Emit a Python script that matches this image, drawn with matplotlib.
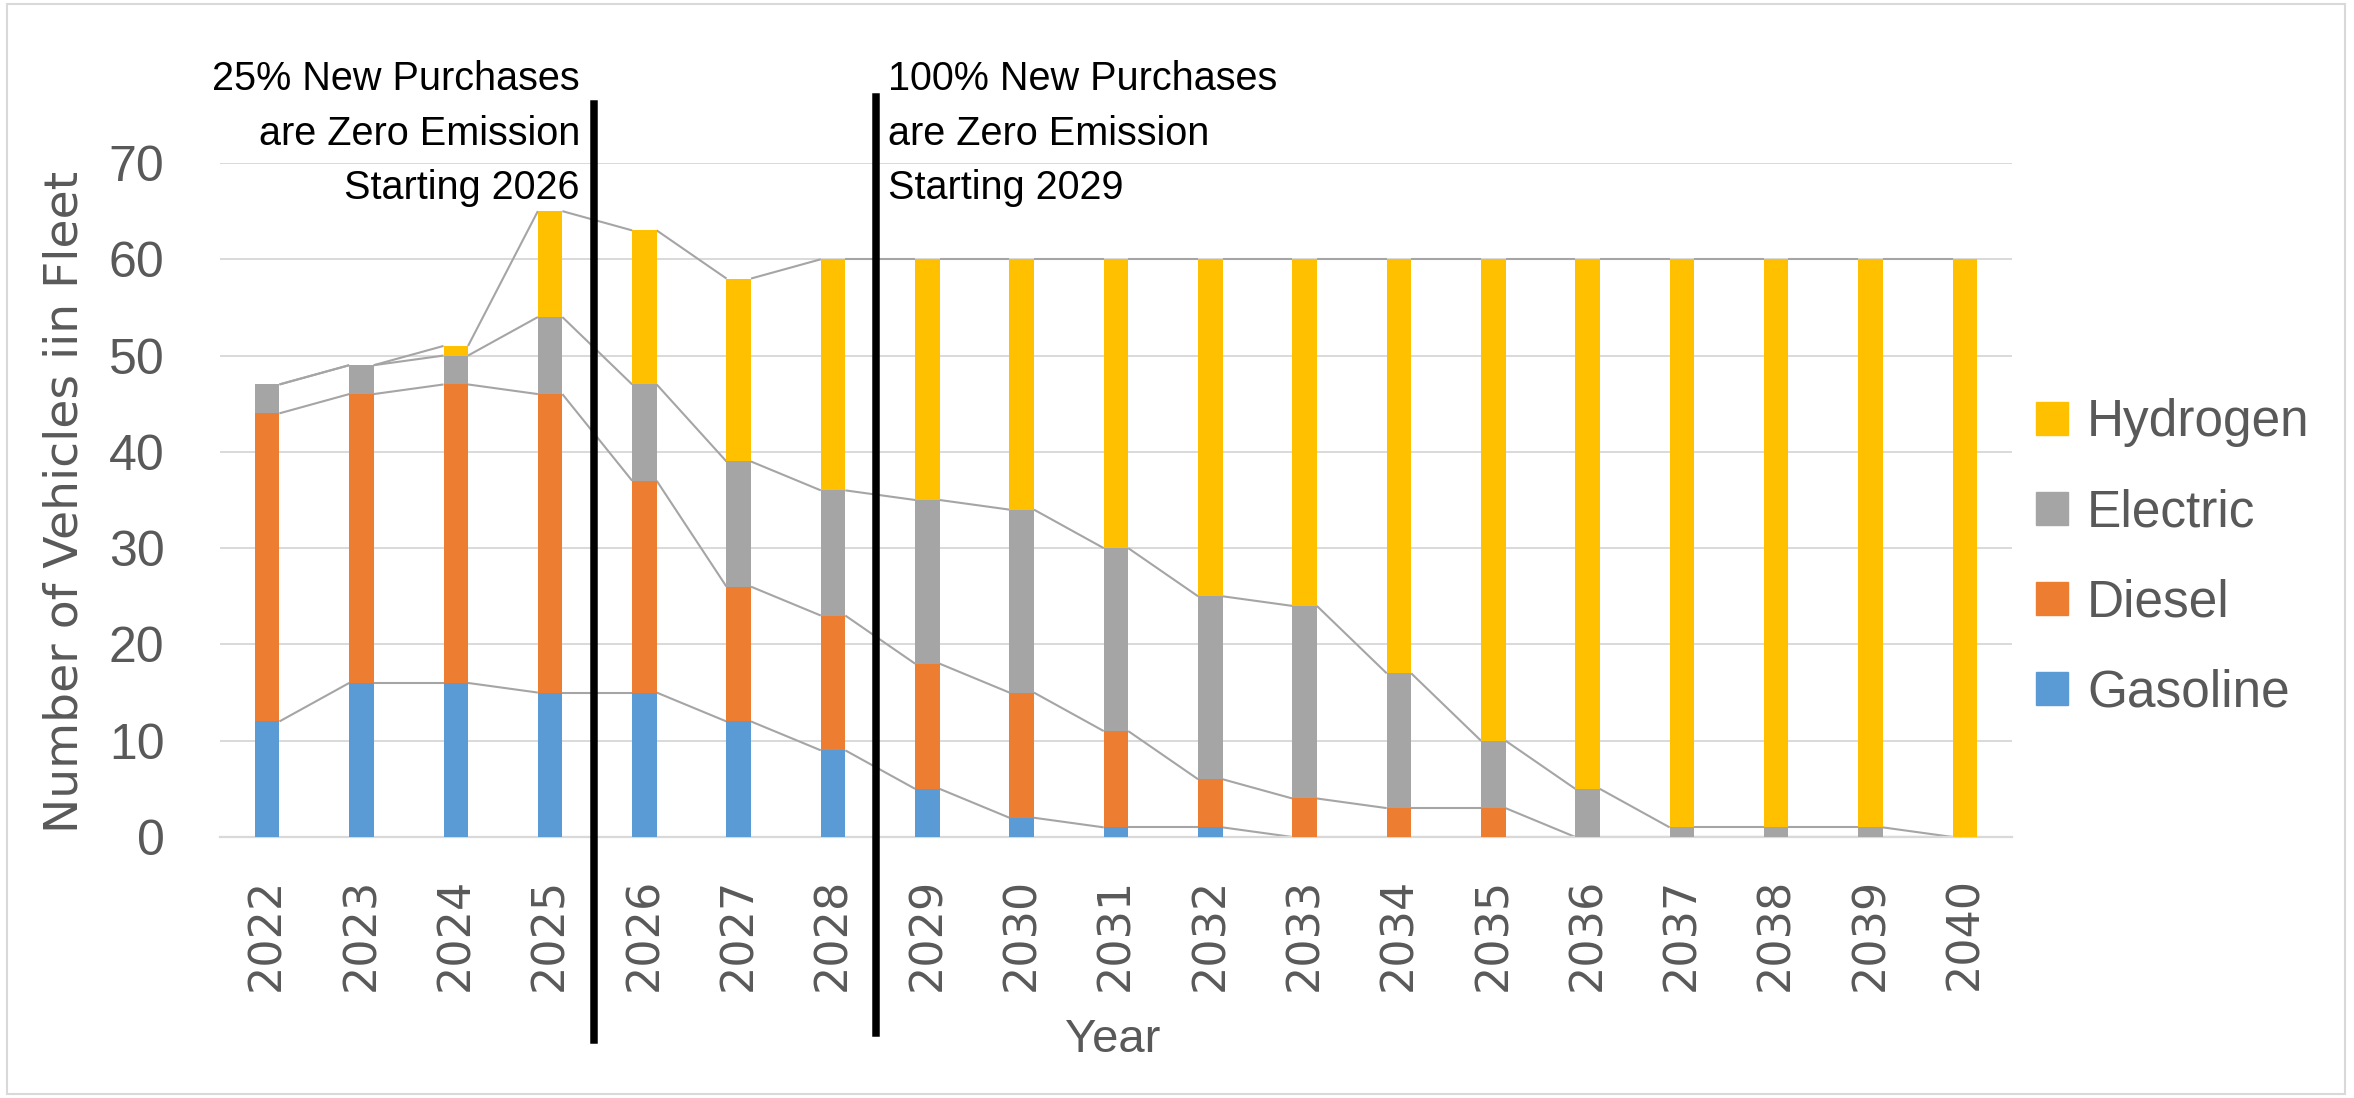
import matplotlib
matplotlib.use('Agg')
import matplotlib.pyplot as plt
import matplotlib.transforms as mtransforms
from matplotlib.patches import Patch, Rectangle
import numpy as np

years = ['2022', '2023', '2024', '2025', '2026', '2027', '2028', '2029', '2030', '2031',
         '2032', '2033', '2034', '2035', '2036', '2037', '2038', '2039', '2040']
gasoline = [12, 16, 16, 15, 15, 12, 9, 5, 2, 1, 1, 0, 0, 0, 0, 0, 0, 0, 0]
diesel = [32, 30, 31, 31, 22, 14, 14, 13, 13, 10, 5, 4, 3, 3, 0, 0, 0, 0, 0]
electric = [3, 3, 3, 8, 10, 13, 13, 17, 19, 19, 19, 20, 14, 7, 5, 1, 1, 1, 0]
hydrogen = [0, 0, 1, 11, 16, 19, 24, 25, 26, 30, 35, 36, 43, 50, 55, 59, 59, 59, 60]

series_names = ['Gasoline', 'Diesel', 'Electric', 'Hydrogen']
colors = ['#5B9BD5', '#ED7D31', '#A5A5A5', '#FFC000']

note_left = ['25% New Purchases', 'are Zero Emission', 'Starting 2026']
note_right = ['100% New Purchases', 'are Zero Emission', 'Starting 2029']

W, H = 2354, 1098
fig = plt.figure(figsize=(W / 100, H / 100), dpi=100)
ax = fig.add_axes([220 / W, 1 - 837 / H, (2012 - 220) / W, (837 - 163) / H])

x = np.arange(len(years))
bw = 0.26
bottom = np.zeros(len(years))
tops = []
for name, vals, c in zip(series_names, [gasoline, diesel, electric, hydrogen], colors):
    ax.bar(x, vals, bw, bottom=bottom, color=c, label=name, zorder=3)
    bottom = bottom + np.array(vals)
    tops.append(bottom.copy())

# excel style series lines
for cum in tops:
    for i in range(len(years) - 1):
        ax.plot([x[i] + bw / 2, x[i + 1] - bw / 2], [cum[i], cum[i + 1]],
                color='#A5A5A5', lw=1.5, zorder=2, solid_capstyle='butt')

ax.set_xlim(-0.5, len(years) - 0.5)
ax.set_ylim(0, 70)
ax.set_yticks(range(0, 71, 10))
ax.yaxis.grid(True, color='#D9D9D9', lw=1.4, zorder=0)
ax.set_axisbelow(True)
for s in ['top', 'right', 'left']:
    ax.spines[s].set_visible(False)
ax.spines['bottom'].set_color('#D9D9D9')
ax.spines['bottom'].set_linewidth(1.6)

ax.set_xticks(x)
ax.set_xticklabels(years, rotation=90, fontsize=32, color='#595959', family='DejaVu Sans')
ax.tick_params(axis='x', length=0, pad=29)
ax.tick_params(axis='y', length=0, pad=40, labelsize=36, labelcolor='#595959')
for lab in ax.get_yticklabels():
    lab.set_family('Liberation Sans')

fig.text(65 / W, 1 - 502 / H, 'Number of Vehicles iin Fleet', rotation=90, ha='center',
         va='center', fontsize=34, color='#595959', family='DejaVu Sans')
fig.text(1113 / W, 1 - 1040 / H, 'Year', ha='center', va='center', fontsize=34,
         color='#595959', family='Liberation Sans')

# vertical marker lines
tr = mtransforms.blended_transform_factory(ax.transData, fig.transFigure)
ax.plot([3.47, 3.47], [1 - 1040 / H, 1 - 104 / H], color='black', lw=5.4,
         transform=tr, clip_on=False, zorder=5)
ax.plot([6.46, 6.46], [1 - 1033 / H, 1 - 97 / H], color='black', lw=5.4,
         transform=tr, clip_on=False, zorder=5)

baselines = [90, 145, 199]
for txt, yb in zip(note_left, baselines):
    fig.text(580 / W, 1 - yb / H, txt, ha='right', va='baseline', fontsize=28.5,
             color='black', family='Liberation Sans')
for txt, yb in zip(note_right, baselines):
    fig.text(888 / W, 1 - yb / H, txt, ha='left', va='baseline', fontsize=28.5,
             color='black', family='Liberation Sans')

handles = [Patch(color=c, label=n) for n, c in zip(series_names, colors)][::-1]
fig.legend(handles=handles, loc='center left', bbox_to_anchor=(2036 / W, 1 - 558 / H),
           frameon=False, borderpad=0, borderaxespad=0, handlelength=0.62,
           handleheight=0.6, handletextpad=0.37, labelspacing=0.8,
           prop={'family': 'Liberation Sans', 'size': 37}, labelcolor='#595959')

fig.patches.append(Rectangle((7 / W, 4 / H), (2345 - 7) / W, (1094 - 4) / H,
                             transform=fig.transFigure, fill=False,
                             edgecolor='#D9D9D9', lw=1.5))

fig.savefig('out.png', dpi=100)
